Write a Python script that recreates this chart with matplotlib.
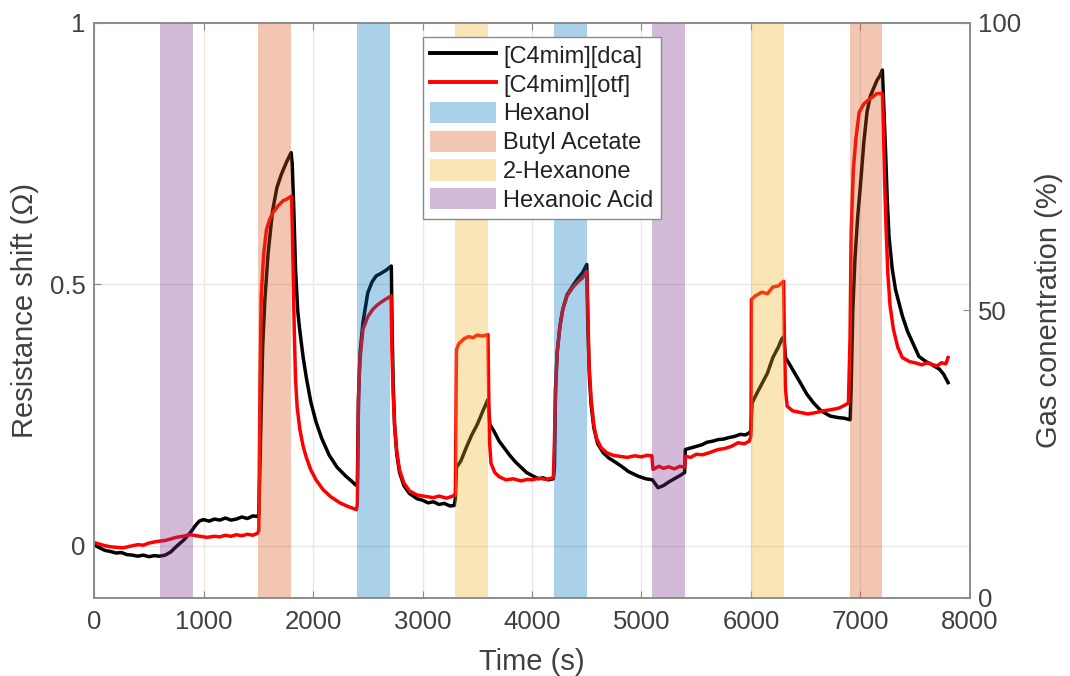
import matplotlib
matplotlib.use("Agg")
import matplotlib.pyplot as plt
from matplotlib.patches import Patch
from matplotlib.lines import Line2D

plt.rcParams["font.family"] = ["Liberation Sans", "DejaVu Sans"]

# resistance shift of the two ionic-liquid sensors (time in s)
t_dca = [0, 50, 100, 150, 200, 250, 300, 350, 400, 450, 500, 550, 600, 650, 700,
         760, 820, 880, 920, 960, 1000, 1050, 1100, 1150, 1200, 1250, 1300, 1350,
         1400, 1450, 1490, 1505, 1520, 1540, 1560, 1590, 1630, 1670, 1710, 1760,
         1800, 1810, 1825, 1840, 1860, 1880, 1910, 1940, 1980, 2027, 2080, 2148,
         2220, 2300, 2350, 2390, 2405, 2415, 2430, 2456, 2500, 2540, 2576, 2620,
         2667, 2715, 2722, 2732, 2745, 2765, 2790, 2830, 2880, 2950, 3000, 3050,
         3100, 3150, 3200, 3250, 3290, 3300, 3310, 3350, 3400, 3450, 3500, 3550,
         3598, 3615, 3650, 3700, 3750, 3800, 3850, 3900, 3950, 4012, 4060, 4100,
         4150, 4195, 4205, 4215, 4230, 4255, 4281, 4320, 4372, 4420, 4460, 4500,
         4510, 4525, 4540, 4565, 4600, 4650, 4700, 4760, 4817, 4880, 4969, 5040,
         5100, 5151, 5200, 5250, 5300, 5350, 5394, 5400, 5450, 5500, 5550, 5600,
         5650, 5700, 5750, 5800, 5850, 5900, 5950, 5985, 6000, 6010, 6050, 6100,
         6150, 6200, 6250, 6280, 6300, 6315, 6344, 6400, 6450, 6510, 6572, 6640,
         6724, 6800, 6850, 6906, 6915, 6930, 6950, 6975, 7000, 7030, 7060, 7090,
         7120, 7150, 7180, 7200, 7215, 7230, 7245, 7261, 7290, 7320, 7382, 7430,
         7473, 7534, 7600, 7640, 7678, 7720, 7760, 7800]
r_dca = [0.002, -0.004, -0.009, -0.011, -0.014, -0.013, -0.017, -0.018, -0.020,
         -0.018, -0.021, -0.019, -0.020, -0.018, -0.012, 0.000, 0.011, 0.025,
         0.037, 0.047, 0.050, 0.047, 0.051, 0.049, 0.053, 0.049, 0.051, 0.055,
         0.052, 0.057, 0.056, 0.060, 0.200, 0.380, 0.470, 0.560, 0.640, 0.685,
         0.710, 0.735, 0.752, 0.730, 0.640, 0.530, 0.450, 0.410, 0.360, 0.320,
         0.275, 0.237, 0.205, 0.173, 0.150, 0.133, 0.124, 0.116, 0.120, 0.280,
         0.370, 0.427, 0.484, 0.505, 0.516, 0.521, 0.527, 0.535, 0.420, 0.310,
         0.230, 0.175, 0.140, 0.115, 0.100, 0.090, 0.087, 0.082, 0.084, 0.079,
         0.081, 0.076, 0.077, 0.090, 0.150, 0.162, 0.188, 0.212, 0.232, 0.257,
         0.280, 0.232, 0.220, 0.200, 0.186, 0.172, 0.160, 0.150, 0.140, 0.133,
         0.128, 0.130, 0.126, 0.128, 0.150, 0.300, 0.370, 0.420, 0.452, 0.480,
         0.497, 0.512, 0.522, 0.538, 0.420, 0.320, 0.270, 0.225, 0.195, 0.178,
         0.168, 0.160, 0.152, 0.142, 0.133, 0.128, 0.126, 0.111, 0.115, 0.122,
         0.128, 0.134, 0.140, 0.184, 0.187, 0.190, 0.193, 0.198, 0.200, 0.203,
         0.204, 0.207, 0.209, 0.213, 0.212, 0.216, 0.220, 0.273, 0.290, 0.310,
         0.330, 0.360, 0.380, 0.395, 0.400, 0.360, 0.350, 0.330, 0.312, 0.290,
         0.273, 0.258, 0.248, 0.245, 0.244, 0.241, 0.300, 0.450, 0.550, 0.630,
         0.690, 0.770, 0.830, 0.860, 0.875, 0.890, 0.900, 0.910, 0.830, 0.750,
         0.660, 0.590, 0.530, 0.490, 0.440, 0.410, 0.390, 0.362, 0.352, 0.348,
         0.343, 0.338, 0.328, 0.312]

t_otf = [0, 50, 100, 150, 200, 266, 330, 400, 450, 500, 572, 650, 700, 750, 810,
         876, 967, 1030, 1100, 1150, 1200, 1250, 1300, 1350, 1400, 1450, 1495,
         1505, 1515, 1527, 1550, 1575, 1605, 1636, 1680, 1727, 1760, 1803, 1812,
         1820, 1830, 1840, 1855, 1880, 1910, 1940, 1980, 2030, 2093, 2160, 2245,
         2320, 2397, 2405, 2415, 2426, 2456, 2500, 2545, 2590, 2637, 2713, 2720,
         2730, 2745, 2765, 2790, 2830, 2880, 2950, 3035, 3100, 3150, 3220, 3290,
         3300, 3310, 3330, 3350, 3380, 3420, 3460, 3500, 3550, 3598, 3604, 3612,
         3625, 3660, 3700, 3762, 3830, 3900, 3960, 4000, 4060, 4130, 4195, 4205,
         4215, 4230, 4255, 4281, 4320, 4372, 4420, 4460, 4500, 4510, 4520, 4540,
         4565, 4590, 4630, 4681, 4740, 4800, 4870, 4940, 5000, 5050, 5095, 5105,
         5160, 5200, 5250, 5300, 5350, 5394, 5400, 5450, 5500, 5560, 5620, 5700,
         5760, 5820, 5882, 5940, 5985, 6000, 6004, 6040, 6100, 6150, 6200, 6250,
         6298, 6305, 6315, 6330, 6380, 6450, 6520, 6600, 6660, 6724, 6800, 6850,
         6890, 6905, 6915, 6935, 6958, 6988, 7030, 7080, 7120, 7150, 7200, 7210,
         7220, 7235, 7250, 7270, 7300, 7340, 7382, 7450, 7500, 7560, 7610, 7650,
         7700, 7740, 7780, 7800]
r_otf = [0.006, 0.003, 0.000, -0.002, -0.003, -0.004, -0.001, 0.002, 0.001,
         0.005, 0.008, 0.010, 0.013, 0.016, 0.018, 0.021, 0.018, 0.016, 0.018,
         0.017, 0.020, 0.018, 0.021, 0.019, 0.022, 0.020, 0.024, 0.030, 0.300,
         0.478, 0.560, 0.605, 0.625, 0.638, 0.650, 0.660, 0.663, 0.669, 0.600,
         0.500, 0.400, 0.320, 0.265, 0.222, 0.190, 0.168, 0.145, 0.125, 0.107,
         0.094, 0.082, 0.075, 0.069, 0.080, 0.280, 0.350, 0.414, 0.438, 0.452,
         0.461, 0.468, 0.478, 0.380, 0.300, 0.230, 0.180, 0.145, 0.120, 0.105,
         0.097, 0.094, 0.092, 0.095, 0.091, 0.096, 0.100, 0.375, 0.386, 0.390,
         0.396, 0.400, 0.398, 0.403, 0.401, 0.404, 0.300, 0.200, 0.158, 0.140,
         0.132, 0.126, 0.128, 0.124, 0.127, 0.126, 0.129, 0.127, 0.130, 0.200,
         0.300, 0.370, 0.420, 0.452, 0.478, 0.494, 0.505, 0.512, 0.525, 0.450,
         0.350, 0.280, 0.230, 0.205, 0.188, 0.178, 0.173, 0.171, 0.169, 0.172,
         0.170, 0.173, 0.172, 0.146, 0.152, 0.148, 0.151, 0.147, 0.152, 0.150,
         0.171, 0.169, 0.175, 0.174, 0.178, 0.184, 0.186, 0.190, 0.197, 0.195,
         0.200, 0.210, 0.471, 0.478, 0.485, 0.482, 0.495, 0.497, 0.506, 0.400,
         0.300, 0.267, 0.258, 0.255, 0.252, 0.255, 0.258, 0.260, 0.263, 0.268,
         0.273, 0.400, 0.600, 0.720, 0.778, 0.829, 0.845, 0.854, 0.860, 0.865,
         0.865, 0.800, 0.700, 0.600, 0.520, 0.460, 0.415, 0.380, 0.360, 0.352,
         0.350, 0.346, 0.350, 0.347, 0.344, 0.350, 0.348, 0.360]

# gas exposure windows: start time (s), gas
exp_start = [600, 1500, 2400, 3300, 4200, 5100, 6000, 6900]
exp_gas = ["Hexanoic Acid", "Butyl Acetate", "Hexanol", "2-Hexanone",
           "Hexanol", "Hexanoic Acid", "2-Hexanone", "Butyl Acetate"]
exp_len = 300
exp_conc = 100

gas_order = ["Hexanol", "Butyl Acetate", "2-Hexanone", "Hexanoic Acid"]
gas_color = {"Hexanol": (0, 0.447, 0.741),
             "Butyl Acetate": (0.85, 0.325, 0.098),
             "2-Hexanone": (0.929, 0.694, 0.125),
             "Hexanoic Acid": (0.494, 0.184, 0.556)}
band_alpha = 0.33

fig = plt.figure(figsize=(10.7, 6.76), dpi=100)
ax = fig.add_axes([0.0879, 0.1154, 0.8186, 0.8506])
ax2 = ax.twinx()

ax.plot(t_dca, r_dca, color="black", lw=2.5)
ax.plot(t_otf, r_otf, color="red", lw=2.5)

# bands go on the right axis so they sit over the curves
for s, g in zip(exp_start, exp_gas):
    ax2.bar(s, exp_conc, width=exp_len, align="edge", color=gas_color[g],
            alpha=band_alpha, edgecolor="none")

ax.set_xlim(0, 8000)
ax.set_ylim(-0.1, 1)
ax2.set_ylim(0, 100)
ax.set_xticks(range(0, 8001, 1000))
ax.set_yticks([0, 0.5, 1])
ax.set_yticklabels(["0", "0.5", "1"])
ax2.set_yticks([0, 50, 100])

txt = "#404040"
edge = "#8a8a8a"
ax.grid(True, color="#e8e8e8", lw=1)
ax.set_axisbelow(True)
for a in (ax, ax2):
    for sp in a.spines.values():
        sp.set_color(edge)
        sp.set_linewidth(1.1)
ax.tick_params(axis="x", direction="in", top=True, colors=edge, labelcolor=txt,
               labelsize=18.5, pad=9, length=5)
ax.tick_params(axis="y", direction="in", colors=edge, labelcolor=txt,
               labelsize=18.5, pad=6, length=5)
ax2.tick_params(axis="y", direction="in", colors=edge, labelcolor=txt,
                labelsize=18.5, pad=6, length=5)

ax.set_xlabel("Time (s)", fontsize=21, color=txt, labelpad=10)
ax.set_ylabel("Resistance shift (Ω)", fontsize=21, color=txt, labelpad=8)
ax2.set_ylabel("Gas conentration (%)", fontsize=21, color=txt, labelpad=10)

handles = [Line2D([], [], color="black", lw=2.8),
           Line2D([], [], color="red", lw=2.8)]
handles += [Patch(facecolor=gas_color[g], alpha=band_alpha, edgecolor="none")
            for g in gas_order]
labels = ["[C4mim][dca]", "[C4mim][otf]"] + gas_order
leg = ax2.legend(handles, labels, loc="upper left", bbox_to_anchor=(0.3756, 0.9757),
                 fontsize=17, frameon=True, fancybox=False, framealpha=1,
                 edgecolor=edge, borderpad=0.3, labelspacing=0.22,
                 handlelength=2.8, handleheight=1.0, handletextpad=0.3,
                 borderaxespad=0)
for t in leg.get_texts():
    t.set_color("#222222")

fig.savefig("out.png", dpi=100)
